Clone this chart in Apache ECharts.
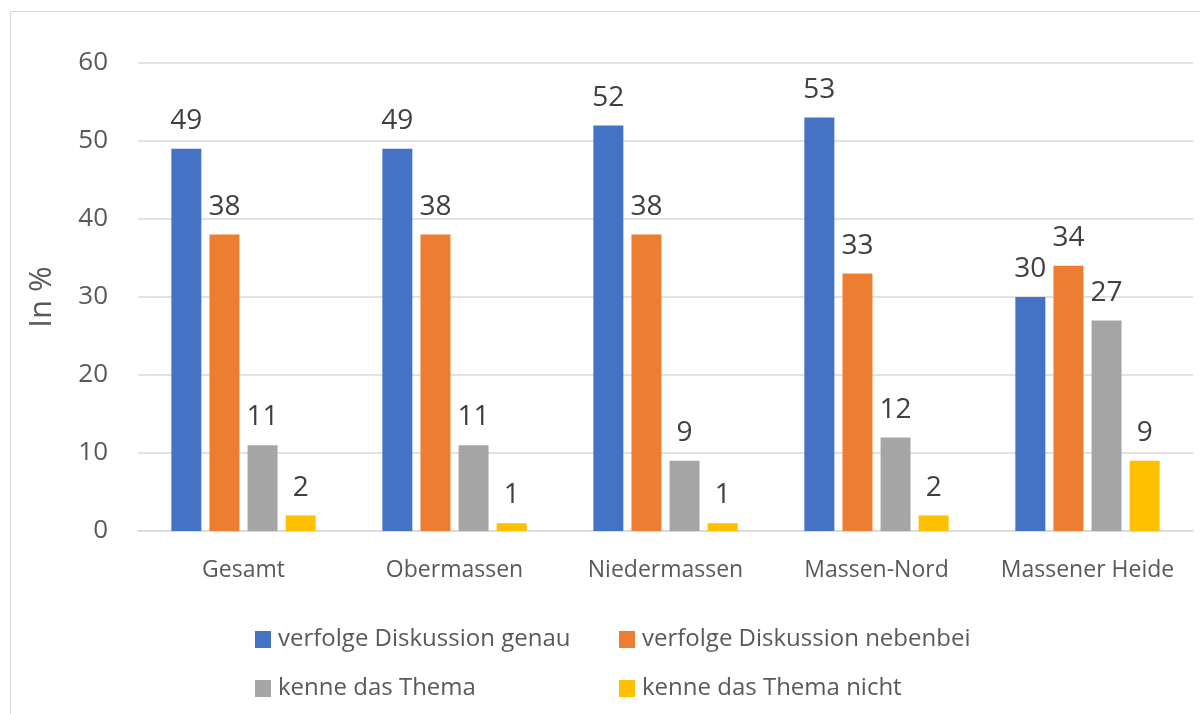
<style>
    body { margin: 0; }
</style>
<div id="chart" style="width:1200px;height:714px;"></div>
<script src="https://cdn.jsdelivr.net/npm/echarts@6/dist/echarts.min.js"></script>
<script>
    var categories = ['Gesamt', 'Obermassen', 'Niedermassen', 'Massen-Nord', 'Massener Heide'];
    var seriesNames = ['verfolge Diskussion genau', 'verfolge Diskussion nebenbei', 'kenne das Thema', 'kenne das Thema nicht'];
    var genau = [49, 49, 52, 53, 30];
    var nebenbei = [38, 38, 38, 33, 34];
    var kenne = [11, 11, 9, 12, 27];
    var kenneNicht = [2, 1, 1, 2, 9];
    var yTicks = [0, 10, 20, 30, 40, 50, 60];

    var colors = ['#4472C4', '#ED7D31', '#A5A5A5', '#FFC000'];
    var font = 'Open Sans';
    var allValues = [genau, nebenbei, kenne, kenneNicht];

    var myChart = echarts.init(document.getElementById('chart'));

    // one legend per item so the two columns line up
    var legendPos = [[255, 620], [619, 620], [255, 669], [619, 669]];
    var legends = seriesNames.map(function (name, i) {
        return {
            data: [name],
            left: legendPos[i][0],
            top: legendPos[i][1],
            padding: 0,
            icon: 'rect',
            itemWidth: 16,
            itemHeight: 17,
            itemGap: 5,
            textStyle: { fontFamily: font, fontSize: 24, color: '#595959', padding: [0, 0, 0, 2] }
        };
    });

    var option = {
        animation: false,
        color: colors,
        graphic: [{
            type: 'rect',
            shape: { x: 10.5, y: 11.5, width: 1300, height: 800 },
            style: { fill: 'none', stroke: '#d9d9d9', lineWidth: 1 },
            silent: true
        }],
        legend: legends,
        grid: { left: 138, right: 7, top: 63, bottom: 183 },
        xAxis: {
            type: 'category',
            data: categories,
            axisTick: { show: false },
            axisLine: { lineStyle: { color: '#d9d9d9', width: 1.5 } },
            axisLabel: { interval: 0, fontFamily: font, fontSize: 23, color: '#595959', margin: 21 }
        },
        yAxis: {
            type: 'value',
            min: yTicks[0],
            max: yTicks[yTicks.length - 1],
            interval: 10,
            name: 'In %',
            nameLocation: 'middle',
            nameGap: 66,
            nameRotate: 90,
            nameTextStyle: { fontFamily: font, fontSize: 31, color: '#595959' },
            axisLine: { show: false },
            axisTick: { show: false },
            splitLine: { lineStyle: { color: '#d9d9d9', width: 1.5 } },
            axisLabel: { fontFamily: font, fontSize: 26, color: '#595959', margin: 30 }
        },
        series: seriesNames.map(function (name, i) {
            return {
                name: name,
                type: 'bar',
                data: allValues[i],
                barWidth: 30,
                barGap: '27%',
                label: {
                    show: true,
                    position: 'top',
                    distance: 5,
                    fontFamily: font,
                    fontSize: 28,
                    color: '#404040'
                }
            };
        })
    };

    myChart.setOption(option);
</script>
